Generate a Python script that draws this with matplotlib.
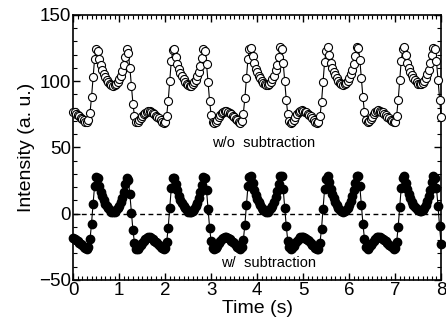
import numpy as np
import matplotlib
matplotlib.use('Agg')
import matplotlib.pyplot as plt
from matplotlib.ticker import MultipleLocator

plt.rcParams['font.family'] = ['Liberation Sans', 'DejaVu Sans']

# frames recorded at 30 fps, 0 to 8 s
fps = 30
n_frames = 241

# intensity without background subtraction (open circles)
wo_sub = [
    77.0, 76.5, 75.5, 74.5, 73.5, 72.5, 71.5, 70.5, 69.5, 69.0,
    70.5, 76.0, 88.0, 103.0, 117.0, 124.0, 122.5, 117.0, 112.0, 108.5,
    105.5, 103.0, 101.0, 99.5, 98.0, 97.0, 96.5, 97.0, 98.0, 99.5,
    101.5, 104.0, 107.5, 112.0, 118.0, 124.0, 121.0, 110.0, 96.0, 83.0,
    73.5, 69.0, 69.0, 70.5, 72.0, 73.5, 75.0, 76.0, 77.0, 77.5,
    77.5, 77.0, 76.0, 75.0, 74.0, 73.0, 72.0, 70.5, 69.5, 68.5,
    69.5, 74.0, 85.0, 100.0, 115.0, 123.5, 124.0, 118.5, 113.0, 109.0,
    106.0, 103.5, 101.5, 99.5, 98.0, 97.0, 96.5, 96.5, 97.5, 99.0,
    101.0, 103.5, 107.0, 111.5, 117.5, 124.5, 123.0, 113.0, 99.0, 85.0,
    74.5, 69.5, 68.5, 69.5, 71.0, 73.0, 74.5, 76.0, 77.0, 77.5,
    77.5, 77.0, 76.0, 75.0, 74.0, 73.0, 71.5, 70.5, 69.5, 68.5,
    70.0, 75.5, 87.0, 102.0, 116.5, 124.5, 125.0, 119.0, 113.5, 109.5,
    106.5, 104.0, 102.0, 100.0, 98.5, 97.5, 97.0, 97.0, 98.0, 99.5,
    101.5, 104.0, 108.0, 112.5, 118.5, 125.5, 124.5, 114.0, 100.0, 86.0,
    75.0, 70.0, 68.5, 69.5, 71.0, 73.0, 75.0, 76.5, 77.5, 78.0,
    77.5, 77.0, 76.5, 75.5, 74.5, 73.5, 72.0, 71.0, 69.5, 68.5,
    69.0, 73.5, 84.0, 99.0, 114.5, 123.0, 125.5, 120.0, 114.0, 110.0,
    107.0, 104.5, 102.0, 100.0, 98.5, 97.5, 97.0, 97.5, 98.5, 100.0,
    102.0, 105.0, 108.5, 113.0, 119.0, 126.0, 125.0, 116.0, 102.0, 88.0,
    76.5, 70.5, 69.0, 70.0, 71.5, 73.0, 75.0, 76.5, 77.5, 78.0,
    77.5, 77.0, 76.5, 75.5, 74.5, 73.0, 72.0, 71.0, 70.0, 69.0,
    69.5, 74.0, 85.5, 100.5, 115.5, 124.0, 125.5, 119.5, 114.0, 110.0,
    107.0, 104.5, 102.0, 100.5, 99.0, 98.0, 97.5, 97.5, 98.5, 100.0,
    102.0, 105.0, 108.5, 113.5, 119.5, 125.0, 124.0, 115.0, 101.0, 86.0,
    73.0,
]

# intensity with background subtraction (filled circles)
w_sub = [
    -18.5, -19.0, -20.0, -21.0, -22.0, -23.0, -24.0, -25.0, -26.0, -26.5,
    -25.0, -19.5, -7.5, 7.5, 21.0, 27.5, 26.5, 21.0, 16.5, 13.0,
    10.0, 7.5, 5.5, 4.0, 2.5, 1.5, 1.0, 1.5, 2.5, 4.0,
    6.0, 8.5, 12.0, 16.5, 22.0, 27.0, 25.0, 14.5, 0.5, -12.5,
    -22.0, -26.5, -26.5, -25.0, -23.5, -22.0, -20.5, -19.5, -18.5, -18.0,
    -18.0, -18.5, -19.5, -20.5, -21.5, -22.5, -23.5, -25.0, -26.0, -27.0,
    -26.0, -21.5, -10.5, 4.5, 19.0, 26.5, 27.0, 22.5, 17.5, 13.5,
    10.5, 8.0, 6.0, 4.0, 2.5, 1.5, 1.0, 1.0, 2.0, 3.5,
    5.5, 8.0, 11.5, 16.0, 21.5, 27.5, 26.5, 17.5, 3.5, -10.5,
    -21.0, -26.0, -27.0, -26.0, -24.5, -22.5, -21.0, -19.5, -18.5, -18.0,
    -18.0, -18.5, -19.5, -20.5, -21.5, -22.5, -24.0, -25.0, -26.0, -27.0,
    -25.5, -20.0, -8.5, 6.5, 20.5, 27.5, 28.0, 23.0, 18.0, 14.0,
    11.0, 8.5, 6.5, 4.5, 3.0, 2.0, 1.5, 1.5, 2.5, 4.0,
    6.0, 8.5, 12.5, 17.0, 22.5, 28.5, 28.0, 18.5, 4.5, -9.5,
    -20.5, -25.5, -27.0, -26.0, -24.5, -22.5, -20.5, -19.0, -18.0, -17.5,
    -18.0, -18.5, -19.0, -20.0, -21.0, -22.0, -23.5, -24.5, -26.0, -27.0,
    -26.5, -22.0, -11.5, 3.5, 18.5, 26.0, 28.0, 23.5, 18.5, 14.5,
    11.5, 9.0, 6.5, 4.5, 3.0, 2.0, 1.5, 2.0, 3.0, 4.5,
    6.5, 9.5, 13.0, 17.5, 23.0, 28.5, 28.0, 20.5, 6.5, -7.5,
    -19.0, -25.0, -26.5, -25.5, -24.0, -22.5, -20.5, -19.0, -18.0, -17.5,
    -18.0, -18.5, -19.0, -20.0, -21.0, -22.5, -23.5, -24.5, -25.5, -26.5,
    -26.0, -21.5, -10.0, 5.0, 19.5, 27.0, 28.0, 23.0, 18.5, 14.5,
    11.5, 9.0, 6.5, 5.0, 3.5, 2.5, 2.0, 2.0, 3.0, 4.5,
    6.5, 9.5, 13.0, 18.0, 23.5, 28.0, 27.0, 19.0, 5.5, -9.5,
    -23.0,
]

time = np.arange(n_frames) / fps

fig = plt.figure(figsize=(4.46, 3.30), dpi=100)
ax = fig.add_axes([0.164, 0.152, 0.825, 0.803])

ax.axhline(0, color='k', lw=1, ls='--', dashes=(3.5, 2.5), zorder=1)

ax.plot(time, wo_sub, '-o', color='k', lw=0.8, ms=5.8, mfc='white',
        mec='k', mew=0.8, clip_on=False, zorder=3)
ax.plot(time, w_sub, '-o', color='k', lw=0.8, ms=6, mfc='k',
        mec='k', clip_on=False, zorder=3)

ax.text(4.15, 53, 'w/o  subtraction', ha='center', va='center', fontsize=10.5)
ax.text(4.25, -37.5, 'w/  subtraction', ha='center', va='center', fontsize=10.5)

ax.set_xlim(0, 8)
ax.set_ylim(-50, 150)
ax.xaxis.set_major_locator(MultipleLocator(1))
ax.xaxis.set_minor_locator(MultipleLocator(0.1))
ax.yaxis.set_major_locator(MultipleLocator(50))
ax.yaxis.set_minor_locator(MultipleLocator(10))
ax.tick_params(which='both', direction='in', top=True, right=True,
               labelsize=13.5, pad=1.5)
ax.tick_params(which='major', length=5, width=1)
ax.tick_params(which='minor', length=3, width=0.8)
for sp in ax.spines.values():
    sp.set_linewidth(1.2)

ax.set_xlabel('Time (s)', fontsize=14, labelpad=1)
ax.set_ylabel('Intensity (a. u.)', fontsize=14, labelpad=3)

fig.savefig('out.png', dpi=100)
